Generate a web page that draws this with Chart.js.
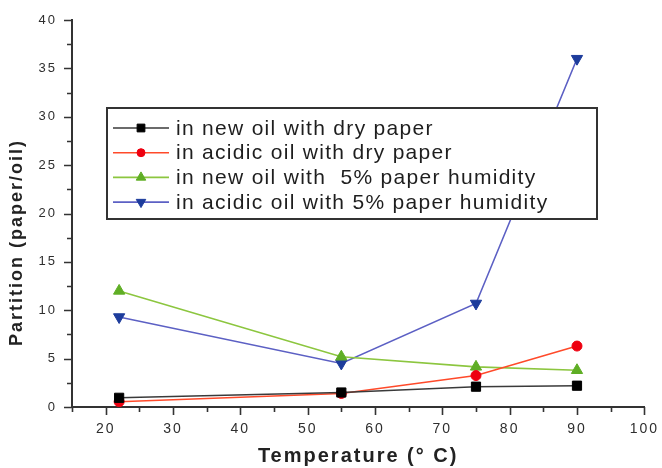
<!DOCTYPE html>
<html>
<head>
<meta charset="utf-8">
<script src="https://cdn.jsdelivr.net/npm/chart.js@4.4.1/dist/chart.umd.min.js"></script>
<style>
  html, body { margin: 0; padding: 0; background: #ffffff; }
  #wrap { width: 662px; height: 468px; }
</style>
</head>
<body>
<div id="wrap"><canvas id="chart" width="662" height="468"></canvas></div>
<script>
// Measured partition coefficients (paper/oil) at each temperature
const temperatures = [22, 55, 75, 90];
const newOilDryPaper = [0.95, 1.5, 2.1, 2.2];
const acidicOilDryPaper = [0.55, 1.4, 3.25, 6.3];
const newOilWetPaper = [12.0, 5.2, 4.15, 3.8];
const acidicOilWetPaper = [9.3, 4.5, 10.7, 36.0];

const seriesLabels = [
  'in new oil with dry paper',
  'in acidic oil with dry paper',
  'in new oil with  5% paper humidity',
  'in acidic oil with 5% paper humidity'
];

const xTickValues = [20, 30, 40, 50, 60, 70, 80, 90, 100];
const yTickValues = [0, 5, 10, 15, 20, 25, 30, 35, 40];

const xAxisTitle = 'Temperature (° C)';
const yAxisTitle = 'Partition (paper/oil)';

const FONT = "'Liberation Sans', Arial, sans-serif";
const AXIS_COLOR = '#333333';

const toPoints = (values) => temperatures.map((t, i) => ({ x: t, y: values[i] }));

const seriesStyles = [
  { line: '#3a3a3a', point: '#000000', style: 'rect', radius: 6.5, rotation: 0 },
  { line: '#ff4a2a', point: '#ee0010', style: 'circle', radius: 5, rotation: 0 },
  { line: '#8cc63f', point: '#5fae25', style: 'triangle', radius: 6.5, rotation: 0 },
  { line: '#5c60c4', point: '#1d3c9c', style: 'triangle', radius: 6.5, rotation: 180 }
];

const seriesValues = [newOilDryPaper, acidicOilDryPaper, newOilWetPaper, acidicOilWetPaper];

const datasets = seriesValues.map((vals, i) => ({
  label: seriesLabels[i],
  data: toPoints(vals),
  borderColor: seriesStyles[i].line,
  borderWidth: 1.6,
  backgroundColor: seriesStyles[i].point,
  pointBackgroundColor: seriesStyles[i].point,
  pointBorderColor: seriesStyles[i].point,
  pointBorderWidth: 1,
  pointStyle: seriesStyles[i].style,
  pointRadius: seriesStyles[i].radius,
  pointRotation: seriesStyles[i].rotation,
  tension: 0,
  fill: false
}));

// Draws a marker shape for the boxed legend
function drawMarker(ctx, style, x, y, r, rotation, color) {
  ctx.save();
  ctx.fillStyle = color;
  ctx.strokeStyle = color;
  ctx.lineWidth = 1;
  ctx.beginPath();
  if (style === 'rect') {
    const s = Math.SQRT1_2 * r;
    ctx.rect(x - s, y - s, 2 * s, 2 * s);
  } else if (style === 'circle') {
    ctx.arc(x, y, r, 0, Math.PI * 2);
  } else {
    const rad = rotation * Math.PI / 180;
    for (let k = 0; k < 3; k++) {
      const a = rad + k * (2 * Math.PI / 3);
      const px = x + Math.sin(a) * r;
      const py = y - Math.cos(a) * r;
      if (k === 0) ctx.moveTo(px, py); else ctx.lineTo(px, py);
    }
    ctx.closePath();
  }
  ctx.fill();
  ctx.stroke();
  ctx.restore();
}

// Wider text spacing for the tick labels
const spacingPlugin = {
  id: 'textSpacing',
  beforeDraw(chart) {
    chart.ctx.letterSpacing = '2px';
  }
};

// Major and minor tick marks on the left and bottom axes
const tickMarksPlugin = {
  id: 'tickMarks',
  afterDraw(chart) {
    const { ctx, scales: { x, y }, chartArea } = chart;
    ctx.save();
    ctx.strokeStyle = AXIS_COLOR;
    ctx.lineWidth = 1.6;
    ctx.beginPath();
    for (let v = 15; v <= 100; v += 5) {
      const px = Math.round(x.getPixelForValue(v)) + 0.5;
      const len = v % 10 === 0 ? 8 : 5;
      ctx.moveTo(px, chartArea.bottom);
      ctx.lineTo(px, chartArea.bottom + len);
    }
    for (let v = 0; v <= 40; v += 2.5) {
      const py = Math.round(y.getPixelForValue(v)) + 0.5;
      const len = v % 5 === 0 ? 8 : 5;
      ctx.moveTo(chartArea.left, py);
      ctx.lineTo(chartArea.left - len, py);
    }
    ctx.stroke();
    ctx.restore();
  }
};

// Bold axis titles
const axisTitlesPlugin = {
  id: 'axisTitles',
  afterDraw(chart) {
    const { ctx, chartArea } = chart;
    ctx.save();
    ctx.fillStyle = '#222222';
    ctx.textAlign = 'center';
    ctx.textBaseline = 'middle';
    ctx.letterSpacing = '2px';
    ctx.font = `bold 20px ${FONT}`;
    ctx.fillText(xAxisTitle, (chartArea.left + chartArea.right) / 2, chart.height - 12);
    ctx.translate(17, (chartArea.top + chartArea.bottom) / 2 + 29);
    ctx.rotate(-Math.PI / 2);
    ctx.font = `bold 18px ${FONT}`;
    ctx.fillText(yAxisTitle, 0, 0);
    ctx.restore();
  }
};

// Boxed legend with line–marker–line samples
const boxLegendPlugin = {
  id: 'boxLegend',
  afterDraw(chart, args, opts) {
    const { ctx } = chart;
    const { left, top, width, height, rowStart, rowGap, sampleStart, sampleEnd, textStart } = opts;
    ctx.save();
    ctx.fillStyle = '#ffffff';
    ctx.fillRect(left, top, width, height);
    ctx.strokeStyle = '#333333';
    ctx.lineWidth = 2;
    ctx.strokeRect(left, top, width, height);
    ctx.font = `21px ${FONT}`;
    ctx.letterSpacing = '1.3px';
    ctx.textBaseline = 'middle';
    ctx.textAlign = 'left';
    chart.data.datasets.forEach((ds, i) => {
      const cy = rowStart + i * rowGap;
      ctx.strokeStyle = ds.borderColor;
      ctx.lineWidth = 1.6;
      ctx.beginPath();
      ctx.moveTo(sampleStart, cy);
      ctx.lineTo(sampleEnd, cy);
      ctx.stroke();
      const st = seriesStyles[i];
      drawMarker(ctx, st.style, (sampleStart + sampleEnd) / 2, cy, st.radius - 1, st.rotation, st.point);
      ctx.fillStyle = '#1e1e1e';
      ctx.fillText(ds.label, textStart, cy + 1);
    });
    ctx.restore();
  }
};

const chart = new Chart(document.getElementById('chart'), {
  type: 'line',
  data: { datasets },
  plugins: [spacingPlugin, tickMarksPlugin, axisTitlesPlugin, boxLegendPlugin],
  options: {
    responsive: false,
    animation: false,
    devicePixelRatio: 1,
    layout: { padding: { top: 20, right: 15, left: 0, bottom: 0 } },
    plugins: {
      legend: { display: false },
      tooltip: { enabled: false },
      boxLegend: {
        left: 107, top: 108, width: 490, height: 111,
        rowStart: 128, rowGap: 24.7,
        sampleStart: 113, sampleEnd: 169, textStart: 176
      }
    },
    scales: {
      x: {
        type: 'linear',
        min: 15,
        max: 100,
        afterBuildTicks: (s) => { s.ticks = xTickValues.map(v => ({ value: v })); },
        afterFit: (s) => { s.height = 61; },
        grid: { display: false },
        border: { display: true, color: AXIS_COLOR, width: 2 },
        ticks: {
          font: { family: FONT, size: 14 },
          color: '#2e2e2e',
          padding: 6,
          maxRotation: 0,
          autoSkip: false
        },
        title: { display: false }
      },
      y: {
        type: 'linear',
        min: 0,
        max: 40,
        afterBuildTicks: (s) => { s.ticks = yTickValues.map(v => ({ value: v })); },
        afterFit: (s) => { s.width = 72; },
        grid: { display: false },
        border: { display: true, color: AXIS_COLOR, width: 2 },
        ticks: {
          font: { family: FONT, size: 13 },
          color: '#2e2e2e',
          padding: 7
        },
        title: { display: false }
      }
    }
  }
});
</script>
</body>
</html>
